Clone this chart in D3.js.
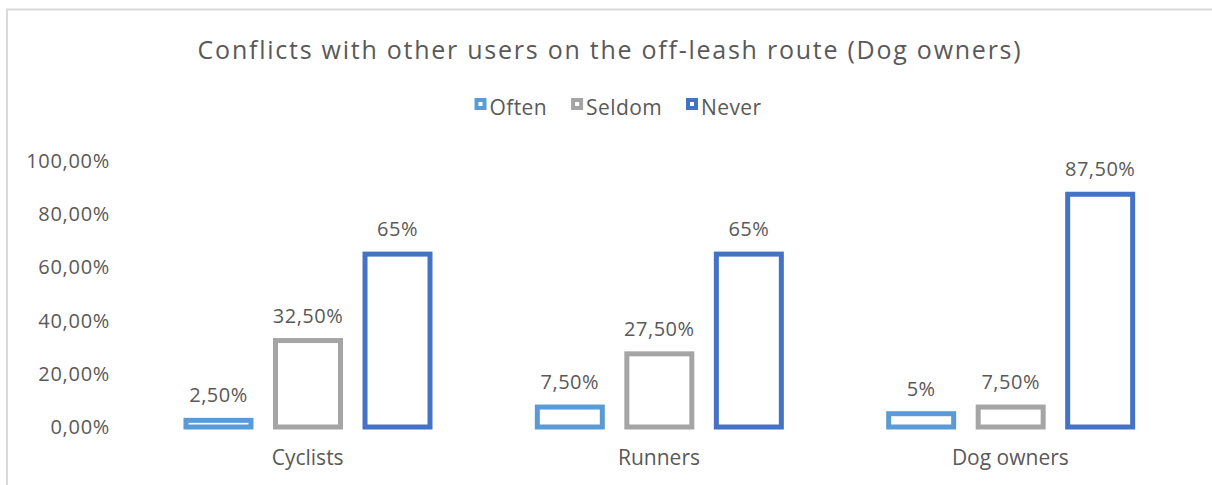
<!DOCTYPE html>
<html>
<head>
<meta charset="utf-8">
<script src="https://cdn.jsdelivr.net/npm/d3@7"></script>
<style>
  body { margin: 0; background: #fff; }
  text { font-family: "Open Sans", sans-serif; fill: #595959; }
</style>
</head>
<body>
<svg></svg>
<script>
// chart data
const categories = ['Cyclists', 'Runners', 'Dog owners'];
const seriesNames = ['Often', 'Seldom', 'Never'];
const often = [2.5, 7.5, 5];
const seldom = [32.5, 27.5, 7.5];
const never = [65, 65, 87.5];
const yTicks = [0, 20, 40, 60, 80, 100];
const colors = ['#5b9bd5', '#a5a5a5', '#4472c4'];

const width = 1212;
const height = 485;

const svg = d3.select('svg').attr('width', width).attr('height', height);

// chart border (only top and left visible)
svg.append('path')
  .attr('d', `M7,${height} V9.5 H${width}`)
  .attr('fill', 'none')
  .attr('stroke', '#d9d9d9')
  .attr('stroke-width', 2);

// title
svg.append('text')
  .text('Conflicts with other users on the off-leash route (Dog owners)')
  .attr('x', 610)
  .attr('y', 59)
  .attr('text-anchor', 'middle')
  .attr('font-size', '25px')
  .attr('letter-spacing', '1.75px');

// scales
const x0 = d3.scaleBand().domain(categories).range([132, 1186]).padding(0);
const x1 = d3.scaleBand().domain(seriesNames).range([54, 298]).paddingInner(0.274).paddingOuter(0);
const y = d3.scaleLinear().domain([0, 100]).range([427, 161]);

// format like "2,50%" / "65%"
const fmtLabel = (v) => (Number.isInteger(v) ? `${v}%` : `${v.toFixed(2).replace('.', ',')}%`);
const fmtTick = (v) => `${v.toFixed(2).replace('.', ',')}%`;

// y axis labels only
const yAxis = d3.axisLeft(y).tickValues(yTicks).tickFormat(fmtTick).tickSize(0).tickPadding(0);
const yg = svg.append('g').attr('transform', 'translate(110,0)').call(yAxis);
yg.select('.domain').remove();
yg.selectAll('text')
  .attr('font-size', '20px')
  .attr('letter-spacing', '0.7px')
  .attr('fill', '#595959')
  .attr('font-family', '"Open Sans", sans-serif');

// x axis labels only
const xAxis = d3.axisBottom(x0).tickSize(0).tickPadding(0);
const xg = svg.append('g').attr('transform', 'translate(0,450)').call(xAxis);
xg.select('.domain').remove();
xg.selectAll('text')
  .attr('font-size', '21px')
  .attr('fill', '#595959')
  .attr('font-family', '"Open Sans", sans-serif');

// bars
const rows = categories.map((c, i) => ({
  category: c,
  values: [often[i], seldom[i], never[i]].map((v, j) => ({ series: seriesNames[j], value: v, color: colors[j] }))
}));

const groups = svg.append('g').selectAll('g')
  .data(rows)
  .join('g')
  .attr('transform', (d) => `translate(${x0(d.category)},0)`);

groups.selectAll('rect')
  .data((d) => d.values)
  .join('rect')
  .attr('x', (d) => x1(d.series))
  .attr('y', (d) => y(d.value))
  .attr('width', x1.bandwidth())
  .attr('height', (d) => y(0) - y(d.value))
  .attr('fill', '#fff')
  .attr('stroke', (d) => d.color)
  .attr('stroke-width', 5);

groups.selectAll('text.lbl')
  .data((d) => d.values)
  .join('text')
  .attr('class', 'lbl')
  .attr('x', (d) => x1(d.series) + x1.bandwidth() / 2)
  .attr('y', (d) => y(d.value) - 18)
  .attr('text-anchor', 'middle')
  .attr('font-size', '20px')
  .attr('letter-spacing', '0.5px')
  .text((d) => fmtLabel(d.value));

// legend
const legend = svg.append('g');
let lx = 0;
seriesNames.forEach((name, i) => {
  const item = legend.append('g').attr('transform', `translate(${lx},0)`);
  item.append('rect')
    .attr('x', 2).attr('y', -15)
    .attr('width', 8).attr('height', 8)
    .attr('fill', '#fff')
    .attr('stroke', colors[i])
    .attr('stroke-width', 4);
  const t = item.append('text')
    .attr('x', 15)
    .attr('y', 0)
    .attr('font-size', '21px')
    .attr('letter-spacing', '0.4px')
    .text(name);
  lx += 15 + t.node().getComputedTextLength() + 24;
});
const legendWidth = lx - 24;
legend.attr('transform', `translate(${618 - legendWidth / 2},115)`);
</script>
</body>
</html>
